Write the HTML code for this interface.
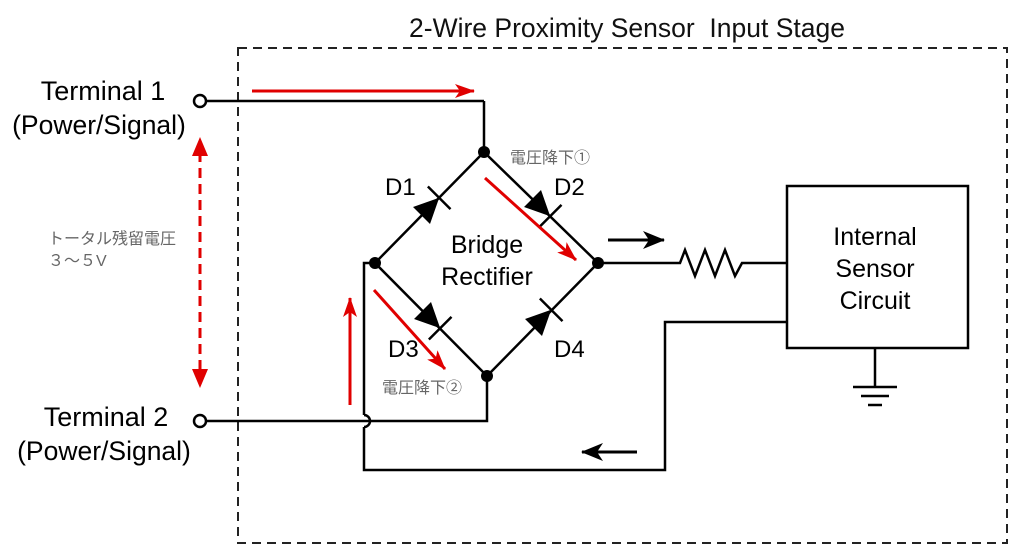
<!DOCTYPE html>
<html><head><meta charset="utf-8"><style>
html,body{margin:0;padding:0;background:#fff;}
svg{display:block;}
text{font-family:"Liberation Sans","Noto Sans CJK JP",sans-serif;}
</style></head><body>
<svg width="1024" height="557" viewBox="0 0 1024 557" xmlns="http://www.w3.org/2000/svg">
<defs>
<marker id="rh" markerWidth="20" markerHeight="14" refX="19" refY="7" orient="auto" markerUnits="userSpaceOnUse"><path d="M0,0 L20,7 L0,14 L5,7z" fill="#e00000"/></marker>
<marker id="bh" markerWidth="22" markerHeight="18" refX="21" refY="9" orient="auto" markerUnits="userSpaceOnUse"><path d="M0,0 L22,9 L0,18 L6,9z" fill="#000"/></marker>
<g id="diode"><path d="M-12,-12 L13,0 L-12,12z" fill="#000"/><line x1="13" y1="-16" x2="13" y2="16" stroke="#000" stroke-width="2.5"/></g>
</defs>
<rect x="238" y="48" width="769" height="495" fill="none" stroke="#222" stroke-width="2" stroke-dasharray="9,6"/>
<text x="627" y="37" font-size="26.5" text-anchor="middle" fill="#111">2-Wire Proximity Sensor&#160; Input Stage</text>

<g stroke="#000" stroke-width="2.5" fill="none">
<line x1="206" y1="101" x2="484" y2="101"/>
<line x1="484" y1="101" x2="484" y2="152"/>
<polyline points="375,263 484,152 598,263 487,376 375,263"/>
<polyline points="375,263 364,263 364,415"/>
<path d="M364,415 A6,6 0 0 1 364,427"/>
<polyline points="364,427 364,470 665,470 665,322 787,322"/>
<polyline points="206,421 487,421 487,376"/>
<polyline points="598,263 680,263 685,250 695,276 705,250 715,276 725,250 735,276 742,263 787,263"/>
<rect x="787" y="186" width="181" height="162"/>
<line x1="875" y1="348" x2="875" y2="387"/>
<line x1="853" y1="387" x2="897" y2="387"/>
<line x1="861" y1="396" x2="889" y2="396"/>
<line x1="868" y1="405" x2="882" y2="405"/>
</g>
<circle cx="200" cy="101" r="6" fill="#fff" stroke="#000" stroke-width="2.5"/>
<circle cx="200" cy="421" r="6" fill="#fff" stroke="#000" stroke-width="2.5"/>
<g fill="#000"><circle cx="484" cy="152" r="6"/><circle cx="375" cy="263" r="6"/><circle cx="598" cy="263" r="6"/><circle cx="487" cy="376" r="6"/></g>

<use href="#diode" transform="translate(430,207) rotate(-45)"/>
<use href="#diode" transform="translate(541,207) rotate(45)"/>
<use href="#diode" transform="translate(431,319) rotate(45)"/>
<use href="#diode" transform="translate(542,319) rotate(-45)"/>

<g font-size="24" fill="#000">
<text x="385" y="195">D1</text><text x="554" y="195">D2</text>
<text x="388" y="357">D3</text><text x="554" y="357">D4</text>
<text x="487" y="253" text-anchor="middle" font-size="25">Bridge</text>
<text x="487" y="285" text-anchor="middle" font-size="25">Rectifier</text>
<text x="875" y="245" text-anchor="middle" font-size="25">Internal</text>
<text x="875" y="277" text-anchor="middle" font-size="25">Sensor</text>
<text x="875" y="309" text-anchor="middle" font-size="25">Circuit</text>
<text x="103" y="100" text-anchor="middle" font-size="27">Terminal 1</text>
<text x="99" y="134" text-anchor="middle" font-size="26.5">(Power/Signal)</text>
<text x="106" y="426" text-anchor="middle" font-size="27">Terminal 2</text>
<text x="104" y="460" text-anchor="middle" font-size="26.5">(Power/Signal)</text>
</g>
<g font-size="16" fill="#666">
<text x="510" y="163">電圧降下①</text>
<text x="382" y="393">電圧降下②</text>
<text x="48" y="244">トータル残留電圧</text>
<text x="48" y="266">３～５V</text>
</g>

<g stroke="#e00000" stroke-width="3" fill="none">
<line x1="252" y1="91" x2="474" y2="91" marker-end="url(#rh)"/>
<line x1="485" y1="178" x2="576" y2="260" marker-end="url(#rh)"/>
<line x1="374" y1="290" x2="445" y2="369" marker-end="url(#rh)"/>
<line x1="350" y1="405" x2="350" y2="298" marker-end="url(#rh)"/>
<line x1="200" y1="152" x2="200" y2="372" stroke-dasharray="10,6"/>
</g>
<path d="M200,137 L192,156 L208,156z" fill="#e00000"/>
<path d="M200,388 L192,369 L208,369z" fill="#e00000"/>

<g stroke="#000" stroke-width="3">
<line x1="608" y1="240" x2="664" y2="240" marker-end="url(#bh)"/>
<line x1="637" y1="452" x2="582" y2="452" marker-end="url(#bh)"/>
</g>
</svg>
</body></html>
